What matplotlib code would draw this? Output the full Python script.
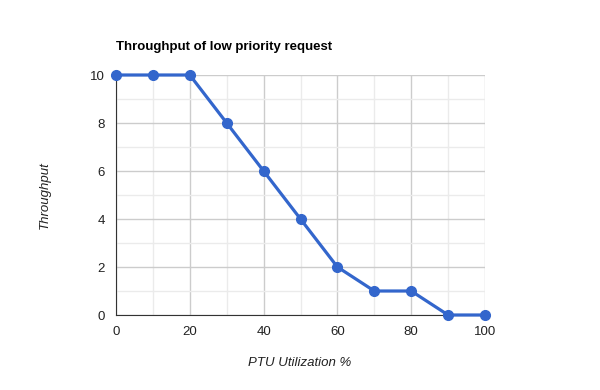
import matplotlib
matplotlib.use("Agg")
import matplotlib.pyplot as plt

# PTU utilization vs throughput of low priority requests
utilization = [0, 10, 20, 30, 40, 50, 60, 70, 80, 90, 100]
throughput = [10, 10, 10, 8, 6, 4, 2, 1, 1, 0, 0]
x_ticks = [0, 20, 40, 60, 80, 100]
y_ticks = [0, 2, 4, 6, 8, 10]

plt.rcParams['font.family'] = ['Liberation Sans', 'DejaVu Sans']

fig = plt.figure(figsize=(6, 3.9), dpi=100)
ax = fig.add_axes([116/600, 1 - 315/390, (485 - 116)/600, (315 - 75)/390])

ax.set_xlim(0, 100)
ax.set_ylim(0, 10)
ax.set_xticks(x_ticks)
ax.set_yticks(y_ticks)
ax.set_xticks(range(10, 100, 20), minor=True)
ax.set_yticks(range(1, 10, 2), minor=True)
ax.grid(True, which='major', color='#cccccc', linewidth=1)
ax.grid(True, which='minor', color='#ebebeb', linewidth=1)
ax.set_axisbelow(True)

for side in ['top', 'right']:
    ax.spines[side].set_visible(False)
ax.spines['left'].set_color('#333333')
ax.spines['bottom'].set_color('#333333')
ax.tick_params(which='both', length=0, labelsize=9.5, colors='#222222', pad=8)

ax.plot(utilization, throughput, color='#3366cc', linewidth=2.3,
        marker='o', markersize=7, clip_on=False, zorder=5)

fig.text(116/600, 1 - 47/390, 'Throughput of low priority request',
         fontsize=9.5, fontweight='bold', color='#000000', va='center')
fig.text(300/600, 1 - 363/390, 'PTU Utilization %', fontsize=9.5,
         fontstyle='italic', color='#222222', ha='center', va='center')
fig.text(45/600, 1 - 195/390, 'Throughput', fontsize=9.5, rotation=90,
         fontstyle='italic', color='#222222', ha='center', va='center')

fig.savefig('out.png', dpi=100)
